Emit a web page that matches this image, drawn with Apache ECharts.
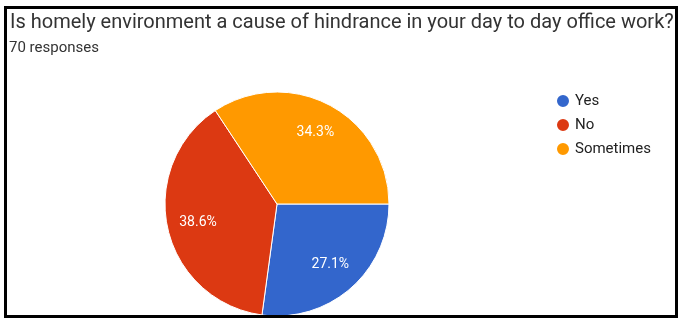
<!DOCTYPE html>
<html><head><meta charset="utf-8">
<script src="https://cdn.jsdelivr.net/npm/echarts@6/dist/echarts.min.js"></script>
<style>html,body{margin:0;padding:0;background:#fff}#c{width:680px;height:320px}</style>
</head><body><div id="c"></div>
<script>
var titleText = 'Is homely environment a cause of hindrance in your day to day office work?';
var subText = '70 responses';
var categories = ['Yes', 'No', 'Sometimes'];
var values = [19, 27, 24];
var colors = ['#3366CC', '#DC3912', '#FF9900'];

var data = categories.map(function (c, i) { return { name: c, value: values[i], itemStyle: { color: colors[i] } }; });
var total = values.reduce(function (a, b) { return a + b; }, 0);

var chart = echarts.init(document.getElementById('c'));
chart.setOption({
  animation: false,
  graphic: [{
    type: 'rect', shape: { x: 5.5, y: 7.5, width: 671, height: 309 },
    style: { fill: 'none', stroke: '#000', lineWidth: 3 }, z: 100
  }],
  title: [{
    text: titleText, left: 5, top: 8,
    textStyle: { fontFamily: 'Roboto', fontSize: 20, fontWeight: 'normal', color: '#333' }
  }, {
    text: subText, left: 4, top: 36,
    textStyle: { fontFamily: 'Roboto', fontSize: 15, fontWeight: 'normal', color: '#333' }
  }],
  legend: {
    orient: 'vertical', left: 550, top: 88, itemGap: 8, icon: 'circle', itemWidth: 14, itemHeight: 14,
    data: categories,
    textStyle: { fontFamily: 'Roboto', fontSize: 15, color: '#222' }
  },
  series: [{
    type: 'pie', center: [277, 204], radius: 112, startAngle: 0, clockwise: true,
    data: data, label: { show: false }, labelLine: { show: false },
    itemStyle: { borderColor: '#fff', borderWidth: 1 }, silent: true
  }, {
    type: 'pie', center: [277, 204], radius: [44, 112], startAngle: 0, clockwise: true,
    data: data.map(function (d) { return { name: d.name, value: d.value, itemStyle: { color: 'rgba(0,0,0,0)' } }; }),
    silent: true, legendHoverLink: false,
    label: {
      show: true, position: 'inside', color: '#fff', fontFamily: 'Roboto', fontSize: 14,
      formatter: function (p) { return (p.value / total * 100).toFixed(1) + '%'; }
    },
    labelLine: { show: false }, itemStyle: { borderWidth: 0 }
  }]
});
</script></body></html>
